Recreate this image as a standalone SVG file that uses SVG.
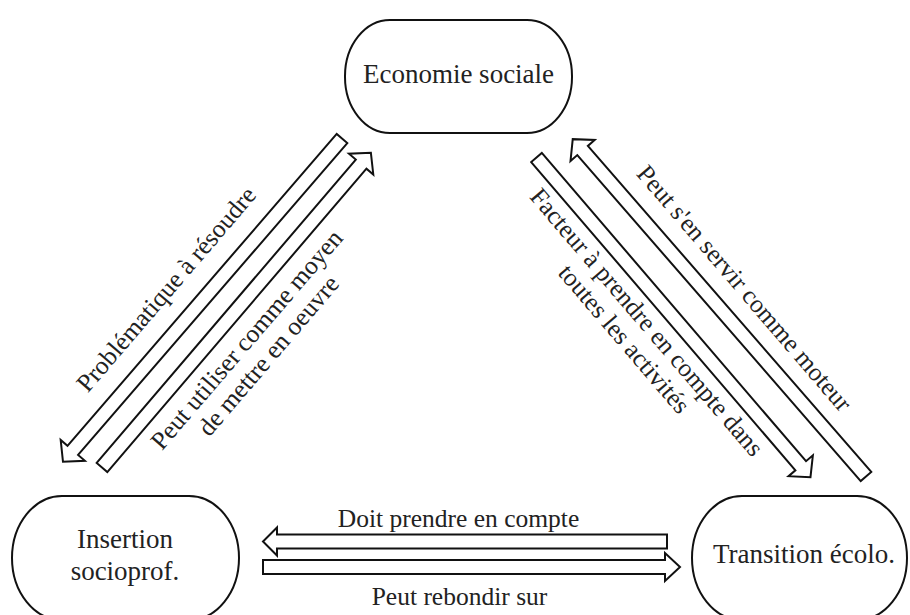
<svg xmlns="http://www.w3.org/2000/svg" width="910" height="615" viewBox="0 0 910 615">
<style>
.node{fill:#fff;stroke:#111;stroke-width:2}
.arr{fill:#fff;stroke:#111;stroke-width:2;stroke-linejoin:miter}
.nt{font-family:"Liberation Serif","Times New Roman",serif;font-size:27px;fill:#222;text-anchor:middle}
.lt{font-family:"Liberation Serif","Times New Roman",serif;font-size:25.5px;fill:#222;text-anchor:middle}
</style>
<rect width="910" height="615" fill="#fff"/>
<g id="connectors">
  <polygon class="arr" points="0,-7 412,-7 412,-16 427,0 412,16 412,7 0,7" transform="translate(342,138.5) rotate(130.8)"/>
  <polygon class="arr" points="0,-7 399,-7 399,-16 414,0 399,16 399,7 0,7" transform="translate(102,467.5) rotate(-49.5)"/>
  <polygon class="arr" points="0,-7 406,-7 406,-16 421,0 406,16 406,7 0,7" transform="translate(536.5,157.5) rotate(49.4)"/>
  <polygon class="arr" points="0,-7 432,-7 432,-16 447,0 432,16 432,7 0,7" transform="translate(866,476.5) rotate(-131)"/>
  <polygon class="arr" points="0,-7 390,-7 390,-14 404,0 390,14 390,7 0,7" transform="translate(667,541.5) rotate(180)"/>
  <polygon class="arr" points="0,-7 402,-7 402,-14 417,0 402,14 402,7 0,7" transform="translate(263,567)"/>
  <text class="lt" transform="translate(172.6,294.7) rotate(-49.4)">Problématique à résoudre</text>
  <text class="lt" transform="translate(253,345) rotate(-49.4)"><tspan x="0" y="0">Peut utiliser comme moyen</tspan><tspan x="2" y="27">de mettre en oeuvre</tspan></text>
  <text class="lt" transform="translate(738,293.7) rotate(49.4)">Peut s'en servir comme moteur</text>
  <text class="lt" transform="translate(640.4,327.7) rotate(49.4)"><tspan x="0" y="0">Facteur à prendre en compte dans</tspan><tspan x="-2" y="28">toutes les activités</tspan></text>
  <text class="lt" x="458.5" y="527">Doit prendre en compte</text>
  <text class="lt" x="459.5" y="605">Peut rebondir sur</text>
</g>
<g id="economie">
  <rect class="node" x="345" y="20" width="227" height="113" rx="45" ry="56"/>
  <text class="nt" x="458.5" y="83">Economie sociale</text>
</g>
<g id="insertion">
  <rect class="node" x="12" y="496" width="227" height="124" rx="50" ry="62"/>
  <text class="nt" x="125" y="548">Insertion</text>
  <text class="nt" x="125" y="580">socioprof.</text>
</g>
<g id="transition">
  <rect class="node" x="692" y="496" width="215" height="124" rx="50" ry="62"/>
  <text class="nt" x="804" y="563">Transition écolo.</text>
</g>
</svg>
